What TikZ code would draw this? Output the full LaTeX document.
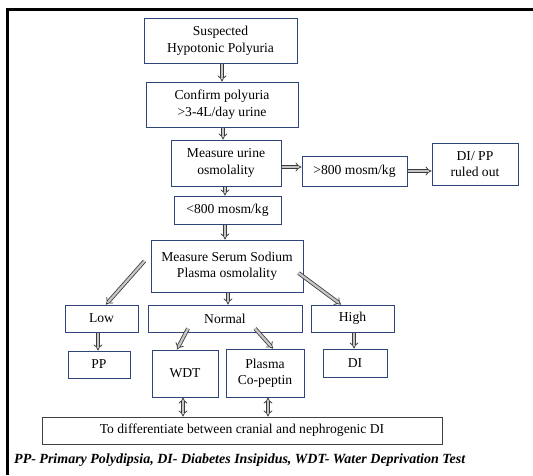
\documentclass[tikz,border=0pt]{standalone}
\usepackage{fontspec}
\setmainfont{Liberation Serif}
\usetikzlibrary{arrows.meta,calc}
\definecolor{boxblue}{HTML}{2F4478}
\definecolor{arrgray}{HTML}{3A3A3A}
\begin{document}
\begin{tikzpicture}[x=1pt,y=-1pt,
  box/.style={draw=boxblue,line width=1pt,align=center,inner sep=0pt,
    font=\fontsize{13.6}{16.5}\selectfont},
  dbl/.style={draw=arrgray,line width=0.8pt,double=gray!45,double distance=2.3pt,
    -{Implies[]}},
  dbldbl/.style={draw=arrgray,line width=0.8pt,double=gray!45,double distance=2.3pt,
    {Implies[]}-{Implies[]}}]
\useasboundingbox (0,0) rectangle (533,475);
\draw[line width=2.3pt] (7.5,475) -- (7.5,9.5) -- (533,9.5);

\node[box,minimum width=153,minimum height=45] (b1) at (220.5,40.5) {Suspected\\Hypotonic Polyuria};
\node[box,minimum width=152,minimum height=45] (b2) at (222,104.5) {Confirm polyuria\\>3-4L/day urine};
\node[box,minimum width=110,minimum height=46] (b3) at (226,163) {Measure urine\\osmolality};
\node[box,minimum width=105,minimum height=30] (gt) at (354.5,171) {>800 mosm/kg};
\node[box,minimum width=86,minimum height=42] (ro) at (475,164) {DI/ PP\\ruled out};
\node[box,minimum width=107,minimum height=28] (lt) at (227.5,210) {<800 mosm/kg};
\node[box,minimum width=152,minimum height=52] (ser) at (227,266) {Measure Serum Sodium\\Plasma osmolality};
\node[box,minimum width=73,minimum height=27] (low) at (101.5,318.5) {Low};
\node[box,minimum width=154,minimum height=27] (nor) at (225,318.5) {Normal};
\node[box,minimum width=83,minimum height=27] (high) at (352.5,318.5) {High};
\node[box,minimum width=62,minimum height=27] (pp) at (99,364.5) {PP};
\node[box,minimum width=66,minimum height=47] (wdt) at (185,373.5) {WDT};
\node[box,minimum width=78,minimum height=48] (cop) at (265,373) {Plasma\\Co-peptin};
\node[box,minimum width=64,minimum height=28] (di) at (355,363) {DI};
\node[box,draw=black!75,minimum width=400,minimum height=27] (bot) at (242,430.5) {To differentiate between cranial and nephrogenic DI};

\node[anchor=west,inner sep=0pt,font=\fontsize{14}{16}\selectfont\bfseries\itshape] (cap) at (14,460)
  {PP- Primary Polydipsia, DI- Diabetes Insipidus, WDT- Water Deprivation Test};

\draw[dbl] (b1.south -| 222,0) -- (b2.north -| 222,0);
\draw[dbl] (b2.south -| 223,0) -- (b3.north -| 223,0);
\draw[dbl] (b3.east |- 0,167) -- (gt.west |- 0,167);
\draw[dbl] (gt.east |- 0,171) -- (ro.west |- 0,171);
\draw[dbl] (b3.south -| 225,0) -- (lt.north -| 225,0);
\draw[dbl] (lt.south -| 225,0) -- (ser.north -| 225,0);
\draw[dbl] ([shift={(-6,-5)}]ser.west) -- (low.north -| 106,0);
\draw[dbl] (ser.south -| 228,0) -- (nor.north -| 228,0);
\draw[dbl] ([shift={(-5,7)}]ser.east) -- (high.north -| 341,0);
\draw[dbl] (low.south -| 98,0) -- (pp.north -| 98,0);
\draw[dbl] ([shift={(-37,-4)}]nor.south) -- (wdt.north -| 177,0);
\draw[dbl] ([shift={(30,-4)}]nor.south) -- (cop.north -| 273,0);
\draw[dbl] (high.south -| 354,0) -- (di.north -| 354,0);
\draw[dbldbl] (wdt.south -| 183,0) -- (bot.north -| 183,0);
\draw[dbldbl] (cop.south -| 268,0) -- (bot.north -| 268,0);
\end{tikzpicture}
\end{document}
